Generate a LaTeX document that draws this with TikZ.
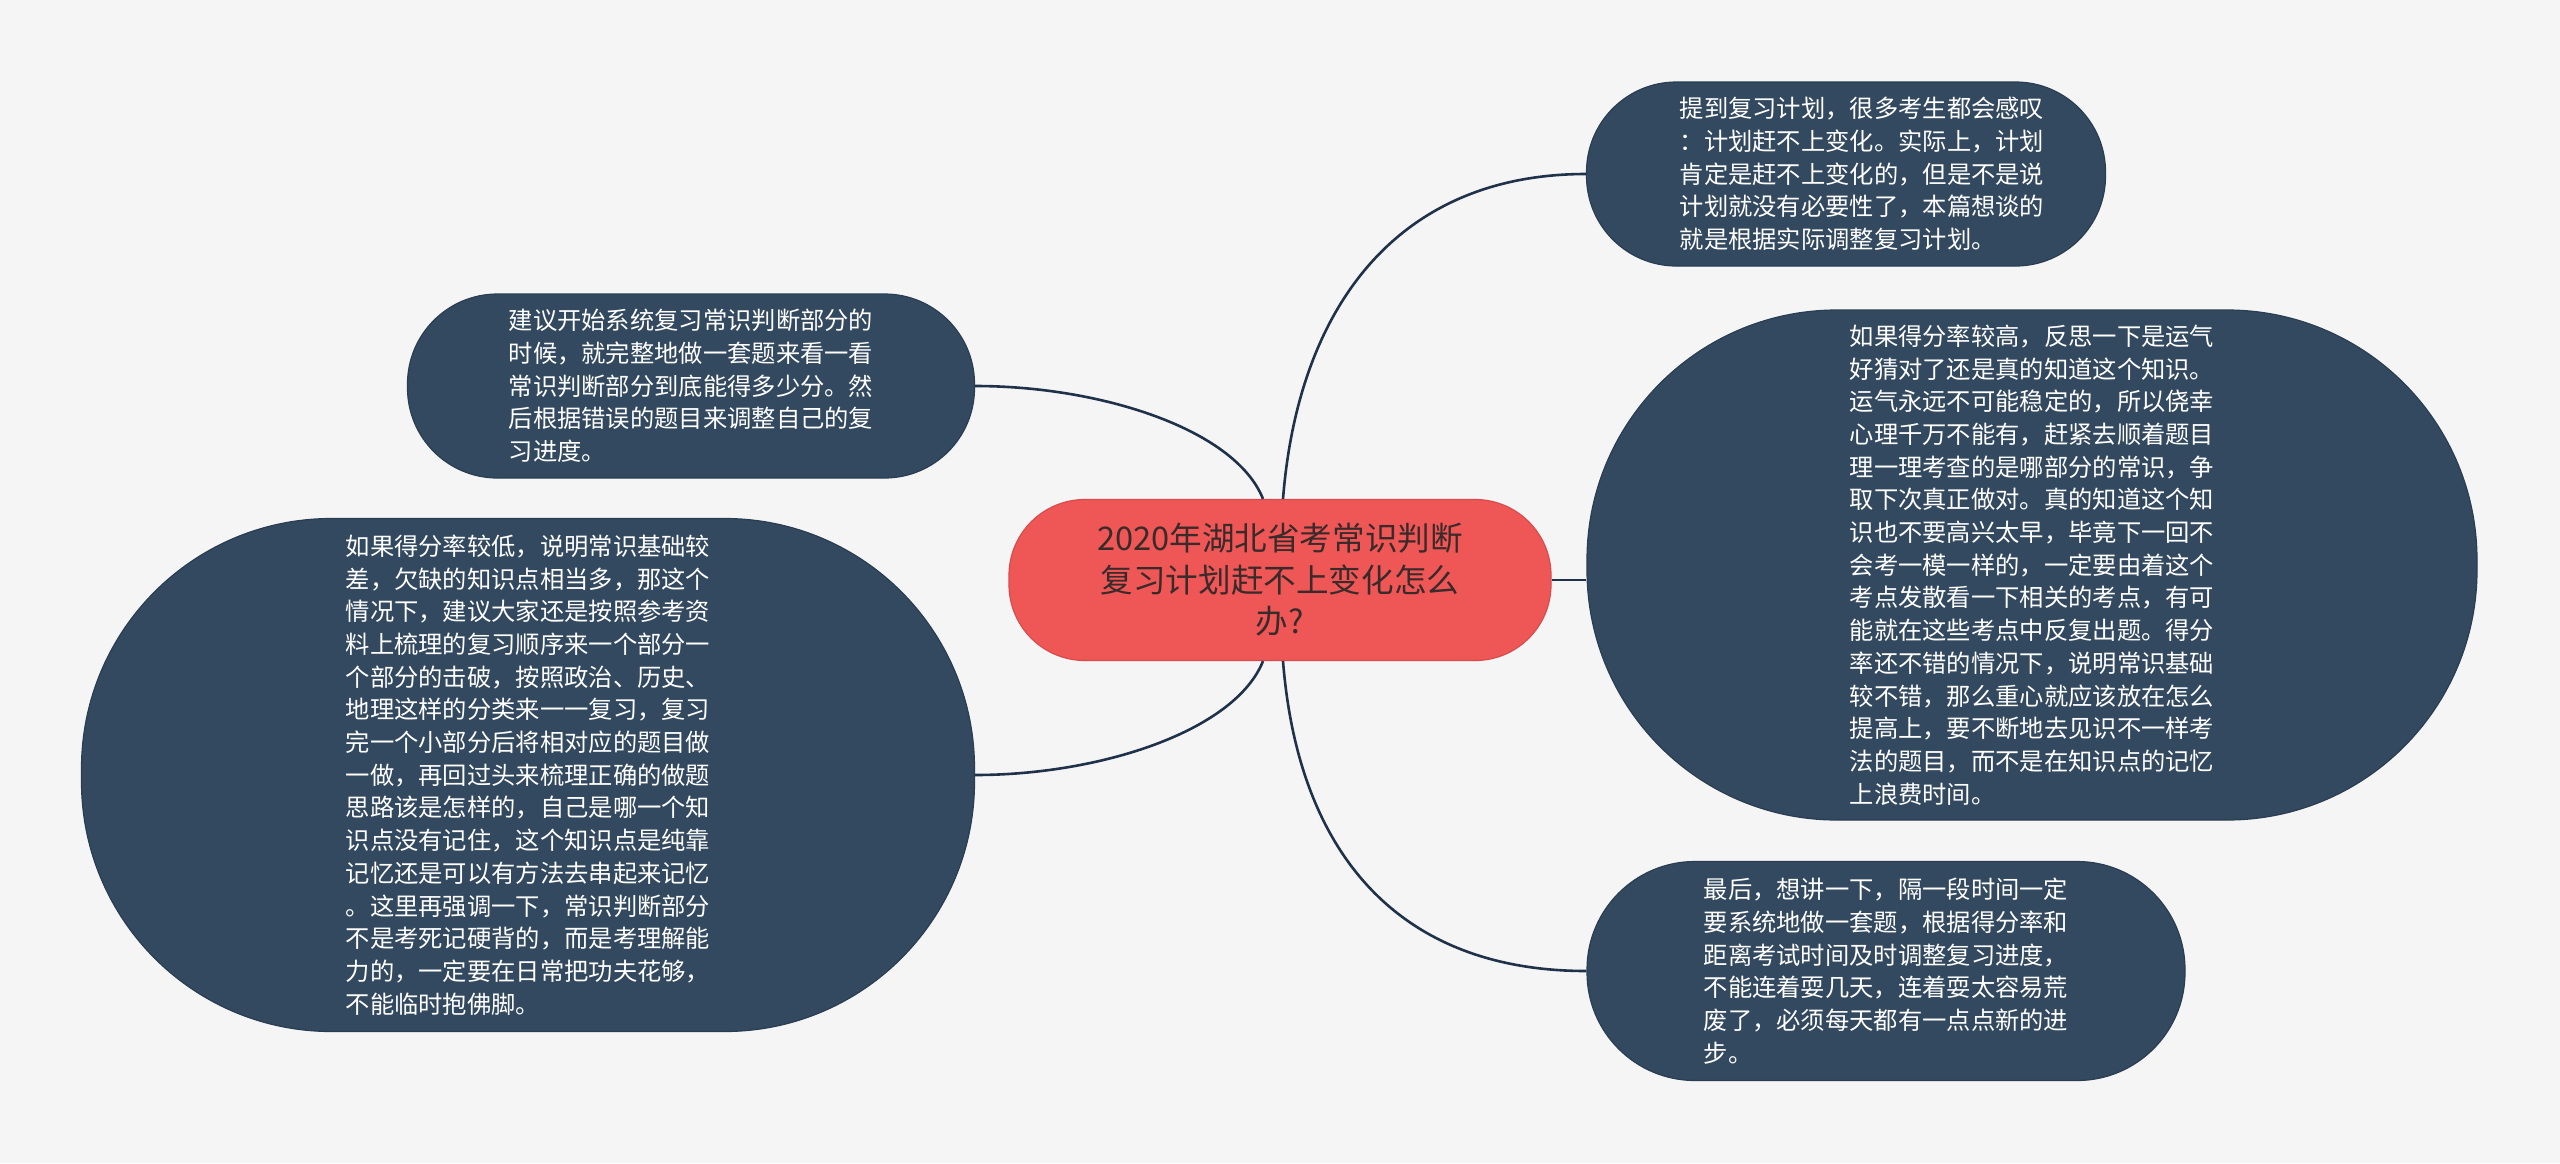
\documentclass[tikz,border=0pt]{standalone}
\usepackage{fontspec}
\setmainfont{Noto Sans CJK SC}
\definecolor{bgc}{HTML}{F5F5F5}
\definecolor{leaffill}{HTML}{33495F}
\definecolor{leafline}{HTML}{2A3D52}
\definecolor{rootfill}{HTML}{EF5757}
\definecolor{rootline}{HTML}{D94B4B}
\definecolor{roottext}{HTML}{3A2A2A}
\definecolor{connc}{HTML}{1F3249}
\newcommand{\ind}{\hspace*{16pt}}
\tikzset{
  leaf/.style={fill=leaffill, draw=leafline, line width=0.6pt, text=white, align=left,
    font=\fontsize{12.15pt}{16.35pt}\selectfont, inner sep=0pt},
  rootnode/.style={fill=rootfill, draw=rootline, line width=0.6pt, text=roottext, align=center,
    font=\fontsize{16.3pt}{20.8pt}\selectfont, inner sep=0pt},
  conn/.style={draw=connc, line width=1.3pt}
}
\begin{document}
\begin{tikzpicture}[x=0.5pt, y=-0.5pt]
\fill[bgc] (0,0) rectangle (2560,1163);
\useasboundingbox (0,0) rectangle (2560,1163);

\node[rootnode, minimum width=271pt, minimum height=80.5pt, rounded corners=38pt] (c) at (1280,580)
  {2020年湖北省考常识判断\\复习计划赶不上变化怎么\\办?};

\node[leaf, minimum width=259.5pt, minimum height=92pt, rounded corners=45pt] (tr) at (1846,174)
  {\ind 提到复习计划，很多考生都会感叹\\\ind ：计划赶不上变化。实际上，计划\\\ind 肯定是赶不上变化的，但是不是说\\\ind 计划就没有必要性了，本篇想谈的\\\ind 就是根据实际调整复习计划。};

\node[leaf, minimum width=445pt, minimum height=255pt, rounded corners=125pt] (rb) at (2032,565)
  {如果得分率较高，反思一下是运气\\好猜对了还是真的知道这个知识。\\运气永远不可能稳定的，所以侥幸\\心理千万不能有，赶紧去顺着题目\\理一理考查的是哪部分的常识，争\\取下次真正做对。真的知道这个知\\识也不要高兴太早，毕竟下一回不\\会考一模一样的，一定要由着这个\\考点发散看一下相关的考点，有可\\能就在这些考点中反复出题。得分\\率还不错的情况下，说明常识基础\\较不错，那么重心就应该放在怎么\\提高上，要不断地去见识不一样考\\法的题目，而不是在知识点的记忆\\上浪费时间。};

\node[leaf, minimum width=299pt, minimum height=109.5pt, rounded corners=54pt] (br) at (1886,971)
  {最后，想讲一下，隔一段时间一定\\要系统地做一套题，根据得分率和\\距离考试时间及时调整复习进度，\\不能连着耍几天，连着耍太容易荒\\废了，必须每天都有一点点新的进\\步。};

\node[leaf, minimum width=283.5pt, minimum height=92pt, rounded corners=45pt] (lt) at (691,386)
  {建议开始系统复习常识判断部分的\\时候，就完整地做一套题来看一看\\常识判断部分到底能得多少分。然\\后根据错误的题目来调整自己的复\\习进度。};

\node[leaf, minimum width=446.5pt, minimum height=256.5pt, rounded corners=125pt] (lb) at (528,775)
  {如果得分率较低，说明常识基础较\\差，欠缺的知识点相当多，那这个\\情况下，建议大家还是按照参考资\\料上梳理的复习顺序来一个部分一\\个部分的击破，按照政治、历史、\\地理这样的分类来一一复习，复习\\完一个小部分后将相对应的题目做\\一做，再回过头来梳理正确的做题\\思路该是怎样的，自己是哪一个知\\识点没有记住，这个知识点是纯靠\\记忆还是可以有方法去串起来记忆\\。这里再强调一下，常识判断部分\\不是考死记硬背的，而是考理解能\\力的，一定要在日常把功夫花够，\\不能临时抱佛脚。};

\draw[conn] ([xshift=-8.5pt]c.north) .. controls +(-28,-70) and +(125,0) .. (lt.east);
\draw[conn] ([xshift=1.5pt]c.north) .. controls +(15,-190) and +(-190,0) .. (tr.west);
\draw[conn] ([xshift=-8.5pt]c.south) .. controls +(-28,70) and +(125,0) .. (lb.east);
\draw[conn] ([xshift=1.5pt]c.south) .. controls +(15,190) and +(-190,0) .. (br.west);
\draw[conn] (c.east) -- (c.east -| rb.west);
\end{tikzpicture}
\end{document}
